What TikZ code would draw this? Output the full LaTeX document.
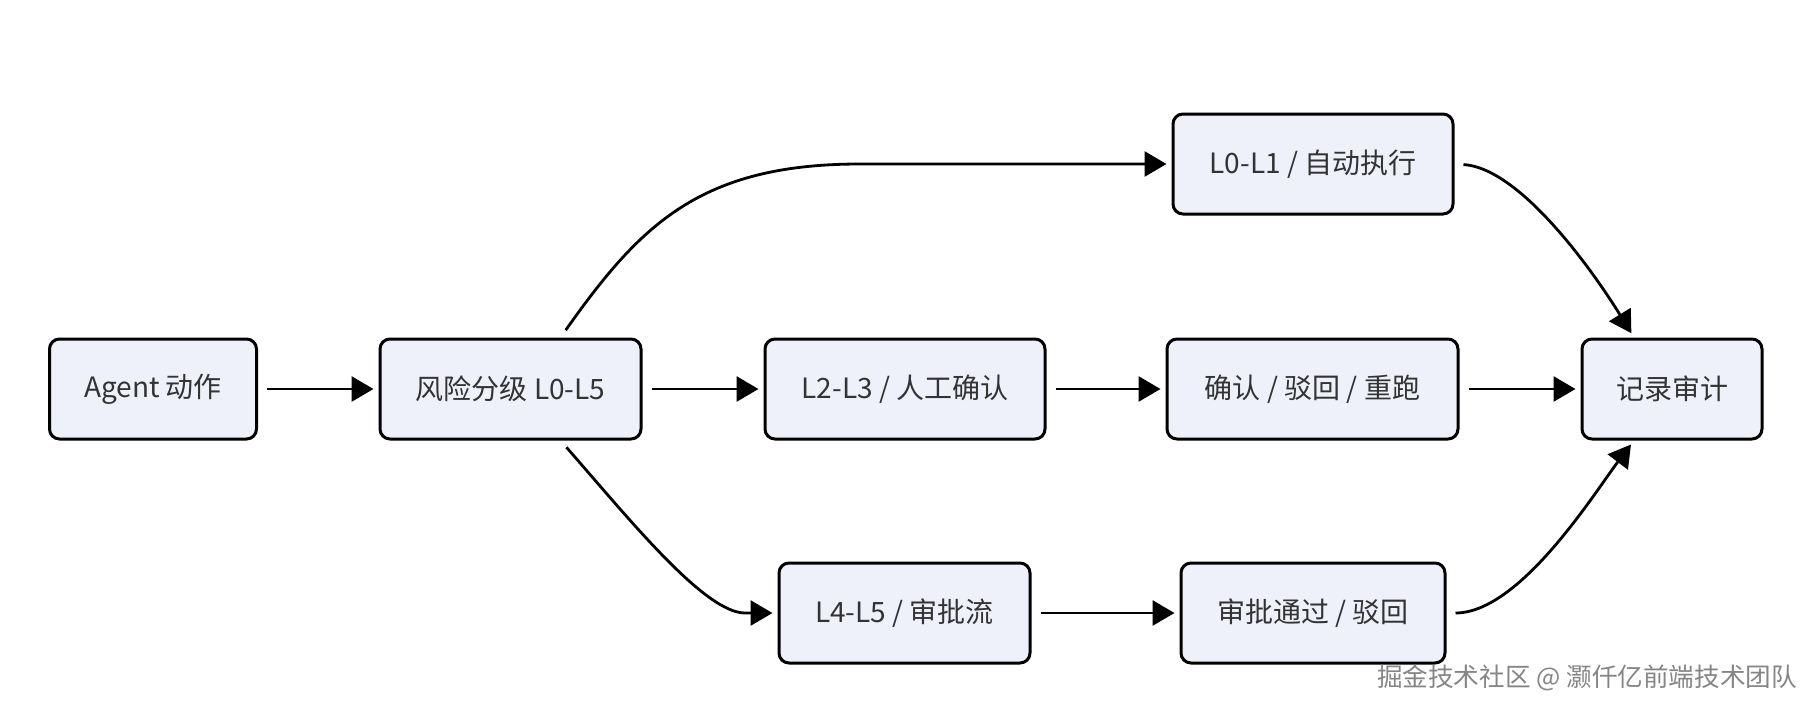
\documentclass[tikz,border=0pt]{standalone}
\usepackage{fontspec}
\setmainfont{Noto Sans CJK SC}
\usetikzlibrary{arrows.meta}
\definecolor{boxfill}{HTML}{EEF1FA}
\definecolor{boxtext}{HTML}{333333}
\definecolor{marktext}{HTML}{858585}

\begin{document}
\begin{tikzpicture}[x=0.5pt, y=-0.5pt,
        box/.style = {shape=rectangle, rounded corners=5pt,
        draw, line width=1.5pt, align=center, minimum height=50pt,
        fill=boxfill, text=boxtext, font=\fontsize{14}{17}\selectfont},
        flow/.style = {-{Triangle[length=11pt, width=12.5pt]}, line width=1.4pt,
        shorten <=4.5pt, shorten >=2.5pt}]
    \useasboundingbox (0,0) rectangle (1812,713);
    \node[box, minimum width=103.5pt] (agent) at (153,389) {Agent 动作};
    \node[box, minimum width=130.5pt] (risk) at (510.5,389) {风险分级 L0-L5};
    \node[box, minimum width=140pt] (auto) at (1313,164) {L0-L1 / 自动执行};
    \node[box, minimum width=140pt] (manual) at (905,389) {L2-L3 / 人工确认};
    \node[box, minimum width=145.5pt] (confirm) at (1312.5,389) {确认 / 驳回 / 重跑};
    \node[box, minimum width=90pt] (audit) at (1672,389) {记录审计};
    \node[box, minimum width=125.5pt] (approve) at (904.5,613) {L4-L5 / 审批流};
    \node[box, minimum width=132pt] (pass) at (1313,613) {审批通过 / 驳回};
    \node[text=marktext, font=\fontsize{12.8}{15}\selectfont] (mark) at (1587,678)
        {掘金技术社区 @ 灏仟亿前端技术团队};

    \draw[flow] (agent) -- (risk);
    \draw[flow] (risk) -- (manual);
    \draw[flow] (manual) -- (confirm);
    \draw[flow] (confirm) -- (audit);
    \draw[flow] (approve) -- (pass);
    \draw[flow] ([xshift=25pt]risk.north) .. controls (640,225) and (700,164) .. (860,164) -- (auto);
    \draw[flow] ([xshift=25pt]risk.south) .. controls (630,520) and (705,613) .. (745,613) -- (approve);
    \draw[flow] (auto.east) .. controls (1520,168) and (1593,271) .. ([xshift=-19pt]audit.north);
    \draw[flow] (pass.east) .. controls (1520,613) and (1595,492) .. ([xshift=-19pt]audit.south);
\end{tikzpicture}
\end{document}
